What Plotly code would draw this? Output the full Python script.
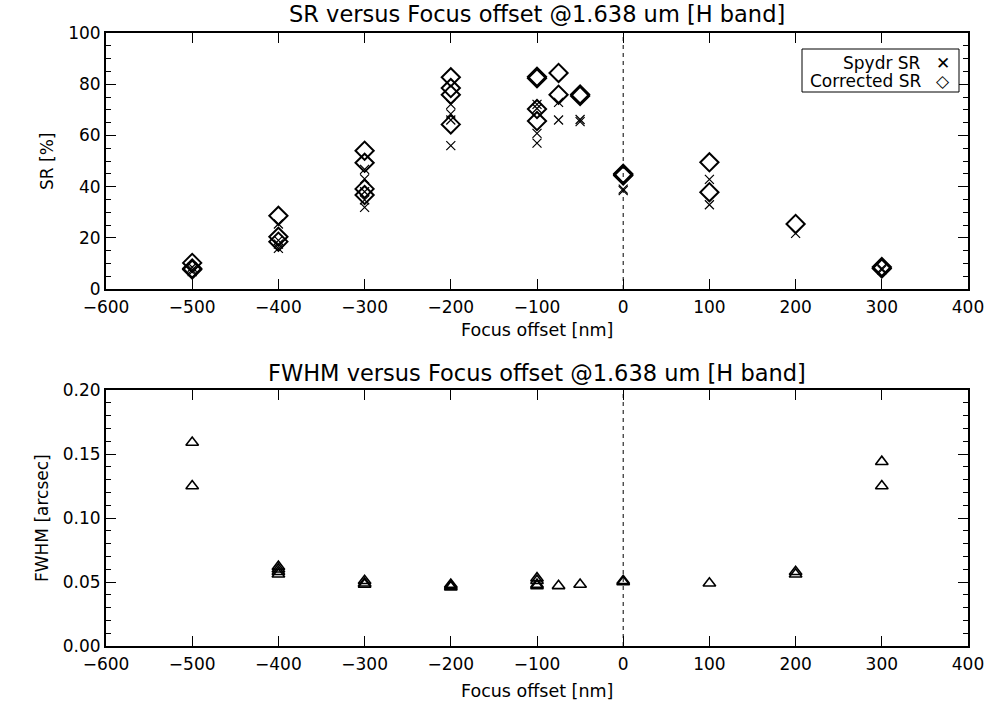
import plotly.graph_objs as go

# --- SR panel data ---
spydr_x = [-500, -500, -500, -400, -400, -400, -400, -300, -300, -300, -300, -300,
           -200, -200, -200, -200, -100, -100, -100, -100, -75, -75, -50, -50,
           0, 0, 100, 100, 200, 300, 300]
spydr_sr = [8.5, 7.5, 6.8, 25.4, 19.0, 15.9, 17.5, 46.7, 43.0, 38.0, 34.8, 31.9,
            72.1, 68.4, 66.0, 56.0, 72.1, 70.5, 60.8, 57.0, 72.9, 66.0, 65.4, 66.2,
            38.4, 39.0, 42.8, 32.9, 21.7, 7.5, 8.0]

corr_x = [-500, -500, -500, -400, -400, -400, -300, -300, -300, -300,
          -200, -200, -200, -200, -100, -100, -100, -100, -75, -75, -50, -50,
          0, 0, 0, 100, 100, 200, 300, 300]
corr_sr = [10.2, 8.0, 7.6, 28.6, 20.4, 18.5, 54.0, 49.3, 39.1, 36.7,
           82.7, 78.5, 75.9, 64.3, 82.9, 82.3, 70.3, 65.6, 84.4, 75.9, 75.4, 76.0,
           44.3, 45.0, 44.6, 49.5, 37.8, 25.4, 8.6, 8.0]

# --- FWHM panel data ---
fwhm_x = [-500, -500, -400, -400, -400, -400, -300, -300, -300, -200, -200, -200,
          -100, -100, -100, -100, -75, -50, 0, 0, 100, 200, 200, 300, 300]
fwhm = [0.159, 0.125, 0.062, 0.060, 0.058, 0.056, 0.051, 0.049, 0.048, 0.048, 0.047, 0.046,
        0.053, 0.051, 0.048, 0.047, 0.047, 0.048, 0.051, 0.050, 0.049, 0.058, 0.056, 0.144, 0.125]

FONT = "DejaVu Sans"
BLACK = "black"
H = 714.0

fig = go.Figure()

fig.add_trace(go.Scatter(
    x=spydr_x, y=spydr_sr, mode="markers", name="Spydr SR",
    marker=dict(symbol="x-thin-open", size=9, color=BLACK, line=dict(color=BLACK, width=1.2)),
    xaxis="x", yaxis="y"
))
fig.add_trace(go.Scatter(
    x=corr_x, y=corr_sr, mode="markers", name="Corrected SR",
    marker=dict(symbol="diamond-open", size=14, color=BLACK, line=dict(color=BLACK, width=2)),
    xaxis="x", yaxis="y"
))
fig.add_trace(go.Scatter(
    x=fwhm_x, y=fwhm, mode="markers", name="FWHM",
    marker=dict(symbol="triangle-up-open", size=11, color=BLACK, line=dict(color=BLACK, width=1.6)),
    xaxis="x2", yaxis="y2"
))

# dashed zero-offset lines
for xr, yr in [("x", "y domain"), ("x2", "y2 domain")]:
    fig.add_shape(type="line", xref=xr, yref=yr, x0=0, x1=0, y0=0, y1=1,
                  line=dict(color=BLACK, width=1, dash="4px,4px"))

axis_common = dict(
    showline=True, linecolor=BLACK, linewidth=2, mirror="ticks",
    ticks="inside", ticklen=10, tickwidth=1, tickcolor=BLACK,
    showgrid=False, zeroline=False, automargin=False,
    tickfont=dict(family=FONT, size=17, color=BLACK),
)
xcommon = dict(axis_common, range=[-600, 400], dtick=100, tickformat="d", ticklabelstandoff=2)

fig.update_layout(
    width=1000, height=714,
    margin=dict(l=0, r=0, t=0, b=0),
    plot_bgcolor="white", paper_bgcolor="white",
    showlegend=False,
    font=dict(family=FONT, color=BLACK),
    xaxis=dict(xcommon, domain=[0.106, 0.968], anchor="y"),
    yaxis=dict(axis_common, domain=[1 - 289 / H, 1 - 33 / H], anchor="x", range=[0, 100], dtick=20,
               minor=dict(dtick=5, ticks="inside", ticklen=5, tickcolor=BLACK, showgrid=False)),
    xaxis2=dict(xcommon, domain=[0.106, 0.968], anchor="y2"),
    yaxis2=dict(axis_common, domain=[1 - 646 / H, 1 - 390 / H], anchor="x2", range=[0, 0.2], dtick=0.05,
                tickformat=".2f",
                minor=dict(dtick=0.01, ticks="inside", ticklen=5, tickcolor=BLACK, showgrid=False)),
)

# panel titles
for txt, ypix in [("SR versus Focus offset @1.638 um [H band]", 14),
                  ("FWHM versus Focus offset @1.638 um [H band]", 373)]:
    fig.add_annotation(text=txt, xref="paper", yref="paper", x=0.537, y=1 - ypix / H,
                       xanchor="center", yanchor="middle", showarrow=False,
                       font=dict(family=FONT, size=22.5, color=BLACK))

# axis titles
for ypix in [330, 691]:
    fig.add_annotation(text="Focus offset [nm]", xref="paper", yref="paper", x=0.537, y=1 - ypix / H,
                       xanchor="center", yanchor="middle", showarrow=False,
                       font=dict(family=FONT, size=17.5, color=BLACK))
for txt, xpix, ypix in [("SR [%]", 47, 162), ("FWHM [arcsec]", 42, 518)]:
    fig.add_annotation(text=txt, xref="paper", yref="paper", x=xpix / 1000, y=1 - ypix / H,
                       xanchor="center", yanchor="middle", showarrow=False, textangle=-90,
                       font=dict(family=FONT, size=17, color=BLACK))

# legend box drawn like the original (text right-aligned, symbol on the right)
fig.add_shape(type="rect", xref="paper", yref="paper", x0=0.802, x1=0.959,
              y0=1 - 92 / H, y1=1 - 49 / H, line=dict(color=BLACK, width=1),
              fillcolor="white")
for txt, sym, yp in [("Spydr SR", "✕", 63), ("Corrected SR", "◇", 81)]:
    fig.add_annotation(text=txt, xref="paper", yref="paper", x=0.923, y=1 - yp / H,
                       xanchor="right", yanchor="middle", showarrow=False,
                       font=dict(family=FONT, size=17, color=BLACK))
    fig.add_annotation(text="<b>" + sym + "</b>", xref="paper", yref="paper", x=0.943, y=1 - yp / H,
                       xanchor="center", yanchor="middle", showarrow=False,
                       font=dict(family=FONT, size=17, color=BLACK))

# the page body has a default 8px margin; drop it so the figure sits at the window's corner
fig.write_html("out.html", config={"displayModeBar": False},
               post_script="document.body.style.margin='0';")
